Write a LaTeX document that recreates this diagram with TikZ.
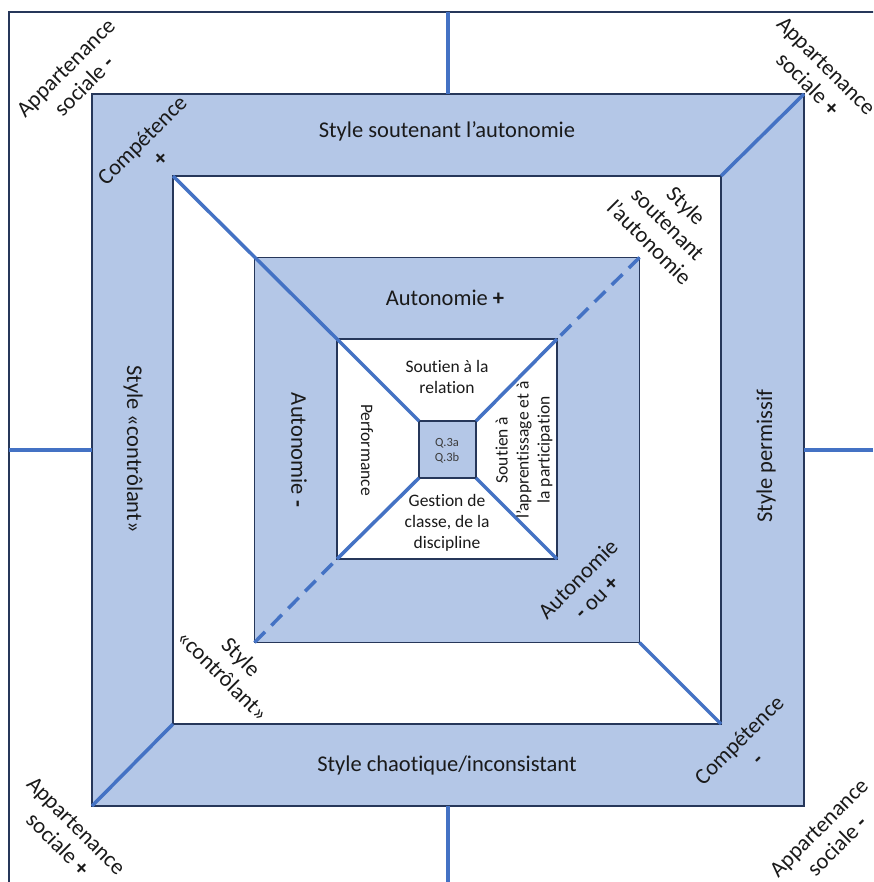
\documentclass[tikz,border=0pt]{standalone}
\usepackage{fontspec}
\setmainfont{Carlito}[RawFeature=-liga]
\definecolor{bandfill}{HTML}{B4C7E7}
\definecolor{edge}{HTML}{26375A}
\definecolor{axisblue}{HTML}{4472C4}
\definecolor{ink}{HTML}{1A1A1A}
\begin{document}
\begin{tikzpicture}[x=1pt,y=-1pt,
  band/.style={draw=edge, line width=1.2pt, fill=bandfill, minimum size=#1, inner sep=0pt, outer sep=0pt},
  hole/.style={draw=edge, line width=1.2pt, fill=white, minimum size=#1, inner sep=0pt, outer sep=0pt},
  axis/.style={draw=axisblue, line width=3.5pt},
  dashaxis/.style={axis, dash pattern=on 15pt off 9pt},
  big/.style={font=\fontsize{22.5}{26}\selectfont, text=ink, align=center, inner sep=0pt},
  small/.style={font=\fontsize{17.5}{21}\selectfont, text=ink, align=center, inner sep=0pt},
  tiny/.style={font=\fontsize{12.5}{14.5}\selectfont, text=ink!85, align=center, inner sep=0pt}]
\useasboundingbox (0,0) rectangle (873,882);
\clip (0,0) rectangle (873,882);

% outer frame
\draw[edge, line width=1.2pt] (9,12) rectangle (900,900);

% nested squares
\node[band=712pt] (sqA) at (448,450) {};
\node[hole=548pt] (sqB) at (447,450) {};
\node[band=385pt] (sqC) at (447,450) {};
\node[hole=220pt] (sqD) at (447,449) {};
\node[band=57pt]  (sqE) at (447.5,449.5) {};

% cross axes from the frame to the outer band
\coordinate (ftop) at (448,12);
\coordinate (fbot) at (448,882);
\coordinate (fleft) at (9,450);
\coordinate (fright) at (873,450);
\draw[axis] (ftop) -- (sqA.north);
\draw[axis] (fbot) -- (sqA.south);
\draw[axis] (fleft) -- (sqA.west);
\draw[axis] (fright) -- (sqA.east);

% diagonals
\draw[axis] (sqB.north west) -- (sqD.north west);
\draw[axis] (sqD.north west) -- (sqE.north west);
\draw[axis] (sqA.north east) -- (sqB.north east);
\draw[dashaxis] (sqC.north east) -- (sqD.north east);
\draw[axis] (sqD.north east) -- (sqE.north east);
\draw[axis] (sqA.south west) -- (sqB.south west);
\draw[dashaxis] (sqC.south west) -- (sqD.south west);
\draw[axis] (sqD.south west) -- (sqE.south west);
\draw[axis] (sqC.south east) -- (sqB.south east);
\draw[axis] (sqD.south east) -- (sqE.south east);

% outer band labels
\node[big] (sTop) at (447,131) {Style soutenant l’autonomie};
\node[big] (sBot) at (447,765) {Style chaotique/inconsistant};
\node[big, rotate=-90] (sLeft) at (133,449) {Style «contrôlant»};
\node[big, rotate=90] (sRight) at (766,456) {Style permissif};

% middle band labels
\node[big] (aTop) at (445,298) {Autonomie \textbf{+}};
\node[big, rotate=-90] (aLeft) at (299,450) {Autonomie \textbf{-}};
\node[big, rotate=45] (aBR) at (587,588) {Autonomie\\\textbf{-} ou \textbf{+}};

% diagonal labels in the white ring
\node[big, rotate=-45] (dBL) at (232,666) {Style\\«contrôlant»};
\node[big, rotate=-45] (dTR) at (668,224) {Style\\soutenant\\l’autonomie};

% inner square labels
\node[small] (iTop) at (447,377) {Soutien à la\\relation};
\node[small, rotate=-90] (iLeft) at (367,450) {Performance};
\node[small] (iBot) at (447,523) {Gestion de\\classe, de la\\discipline};
\node[small, rotate=90] (iRight) at (524,450) {Soutien à\\l’apprentissage et à\\la participation};
\node[tiny] (core) at (447,451) {Q.3a\\Q.3b};

% corner labels
\node[big, rotate=45] (cTL) at (151,149) {Compétence\\\textbf{+}};
\node[big, rotate=45] (cBR) at (748,749) {Compétence\\\textbf{-}};
\node[big, rotate=45] (pTL) at (75,77) {Appartenance\\sociale \textbf{-}};
\node[big, rotate=-45] (pTR) at (817,75) {Appartenance\\sociale \textbf{+}};
\node[big, rotate=-45] (pBL) at (67,835) {Appartenance\\sociale \textbf{+}};
\node[big, rotate=45] (pBR) at (828,837) {Appartenance\\sociale \textbf{-}};
\end{tikzpicture}
\end{document}
